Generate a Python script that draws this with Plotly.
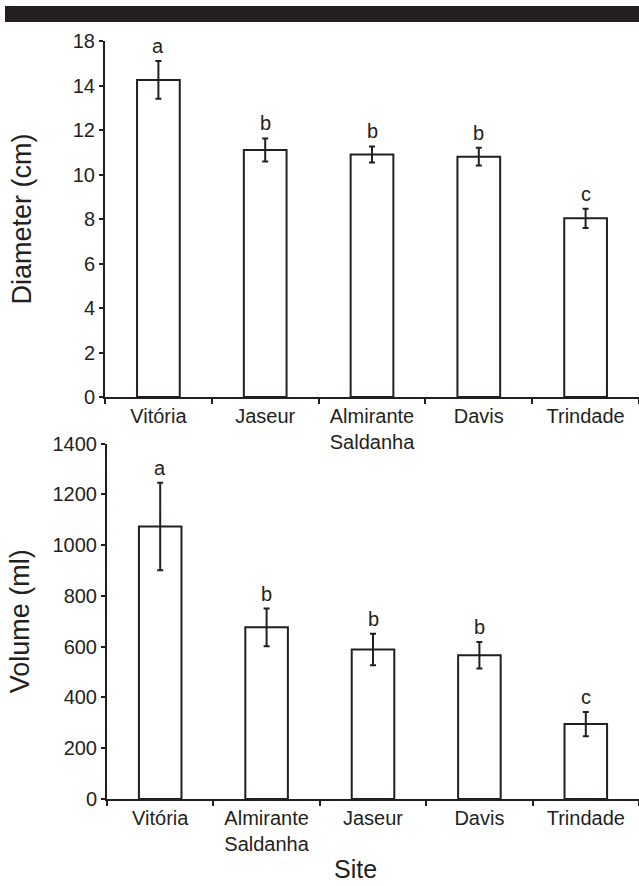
import plotly.graph_objects as go

# ---- data ----
diam_sites = ["Vitória", "Jaseur", "Almirante<br>Saldanha", "Davis", "Trindade"]
diam_mean = [14.25, 11.1, 10.9, 10.8, 8.03]
diam_err = [0.85, 0.52, 0.36, 0.4, 0.43]
diam_letters = ["a", "b", "b", "b", "c"]
diam_tickvals = [0, 2, 4, 6, 8, 10, 12, 14, 16]
diam_ticktext = ["0", "2", "4", "6", "8", "10", "12", "14", "18"]

vol_sites = ["Vitória", "Almirante<br>Saldanha", "Jaseur", "Davis", "Trindade"]
vol_mean = [1073, 676, 589, 566, 295]
vol_err = [172, 74, 62, 52, 48]
vol_letters = ["a", "b", "b", "b", "c"]
vol_tickvals = [0, 200, 400, 600, 800, 1000, 1200, 1400]

FONT = "Liberation Sans, Arial, sans-serif"
INK = "#231f20"

fig = go.Figure()

fig.add_trace(go.Bar(
    x=diam_sites, y=diam_mean, width=0.4,
    marker=dict(color="white", line=dict(color=INK, width=2)),
    error_y=dict(type="data", array=diam_err, color=INK, thickness=2, width=3),
    xaxis="x", yaxis="y", showlegend=False,
))
fig.add_trace(go.Bar(
    x=vol_sites, y=vol_mean, width=0.4,
    marker=dict(color="white", line=dict(color=INK, width=2)),
    error_y=dict(type="data", array=vol_err, color=INK, thickness=2, width=3),
    xaxis="x2", yaxis="y2", showlegend=False,
))

W, H = 639, 886

def fx(px):
    return px / W

def fy(py):
    return 1 - py / H

common_x = dict(
    type="category", showline=True, linecolor=INK, linewidth=2,
    ticks="outside", tickson="boundaries", ticklen=5, tickwidth=1.5, tickcolor=INK,
    tickfont=dict(family=FONT, size=20, color=INK), showgrid=False, zeroline=False,
    range=[-0.5, 4.5], automargin=False,
)
common_y = dict(
    showline=True, linecolor=INK, linewidth=2, ticks="outside", ticklen=4,
    tickwidth=1.5, tickcolor=INK, tickfont=dict(family=FONT, size=20, color=INK),
    showgrid=False, zeroline=False, tickmode="array", ticklabelstandoff=0,
    automargin=False,
)

fig.update_layout(
    template="none",
    width=W, height=H, margin=dict(l=0, r=0, t=0, b=0, autoexpand=False),
    plot_bgcolor="white", paper_bgcolor="white",
    font=dict(family=FONT, color=INK),
    xaxis=dict(common_x, domain=[fx(105), 1], anchor="y"),
    yaxis=dict(common_y, domain=[fy(397), fy(41)], anchor="x", range=[0, 16],
               tickvals=diam_tickvals, ticktext=diam_ticktext,
               title=dict(text="Diameter (cm)", font=dict(family=FONT, size=27, color=INK), standoff=33)),
    xaxis2=dict(common_x, domain=[fx(107), 1], anchor="y2"),
    yaxis2=dict(common_y, domain=[fy(799), fy(443.5)], anchor="x2", range=[0, 1400],
                tickvals=vol_tickvals,
                title=dict(text="Volume (ml)", font=dict(family=FONT, size=27, color=INK), standoff=15)),
)

# significance letters above error bars
for s, m, e, l in zip(diam_sites, diam_mean, diam_err, diam_letters):
    fig.add_annotation(x=s, y=m + e, xref="x", yref="y", text=l, showarrow=False,
                       yanchor="bottom", yshift=2, font=dict(family=FONT, size=20, color=INK))
for s, m, e, l in zip(vol_sites, vol_mean, vol_err, vol_letters):
    fig.add_annotation(x=s, y=m + e, xref="x2", yref="y2", text=l, showarrow=False,
                       yanchor="bottom", yshift=2, font=dict(family=FONT, size=20, color=INK))

# x-axis title
fig.add_annotation(x=fx(355), y=fy(869), xref="paper", yref="paper", text="Site",
                   showarrow=False, xanchor="center", yanchor="middle",
                   font=dict(family=FONT, size=25, color=INK))

# top dark band
fig.add_shape(type="rect", xref="paper", yref="paper", x0=fx(5), x1=1, y0=fy(22), y1=fy(6),
              fillcolor=INK, line=dict(width=0), layer="above")

fig.write_html("out.html", config={"displayModeBar": False},
               post_script="document.body.style.margin='0';document.body.style.overflow='hidden';")
